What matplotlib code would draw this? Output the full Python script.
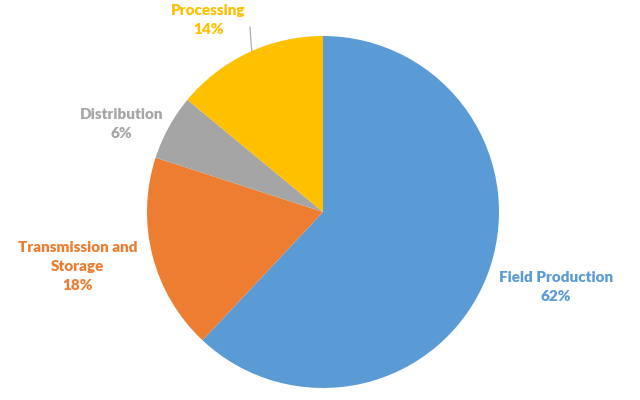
import numpy as np
import matplotlib.pyplot as plt

# datos del grafico
categorias = ['Field Production', 'Transmission and\nStorage', 'Distribution', 'Processing']
valores = [62, 18, 6, 14]
colores = ['#5B9BD5', '#ED7D31', '#A5A5A5', '#FFC000']

# posicion de etiquetas (angulo en grados, distancia en radios)
etiq_ang = [-17.9, 192.6, 156.5, 120.9]
etiq_dist = [1.39, 1.43, 1.25, 1.27]

#--------------------------------------------------------------------------------------------------------------------------------
fig = plt.figure(figsize=(6.4, 4.0), dpi=100)
ax = fig.add_axes([147/640, 12/400, 352/640, 352/400])

wedges, _ = ax.pie(valores, colors=colores, startangle=90, counterclock=False,
                   radius=1, wedgeprops=dict(linewidth=0))
ax.set_xlim(-1, 1)
ax.set_ylim(-1, 1)
ax.set_aspect('equal')
ax.axis('off')

for nombre, v, c, a, d in zip(categorias, valores, colores, etiq_ang, etiq_dist):
    t = np.deg2rad(a)
    ax.text(d*np.cos(t), d*np.sin(t), nombre + '\n' + str(v) + '%', color=c,
            ha='center', va='center', fontsize=11, fontweight='heavy',
            family='Lato', linespacing=1.55, clip_on=False)

# linea guia de Processing
t = np.deg2rad(113.9)
ax.plot([np.cos(t), -0.415], [np.sin(t), 1.051], color='#A6A6A6', lw=0.8, clip_on=False)

fig.savefig('out.png', dpi=100)
